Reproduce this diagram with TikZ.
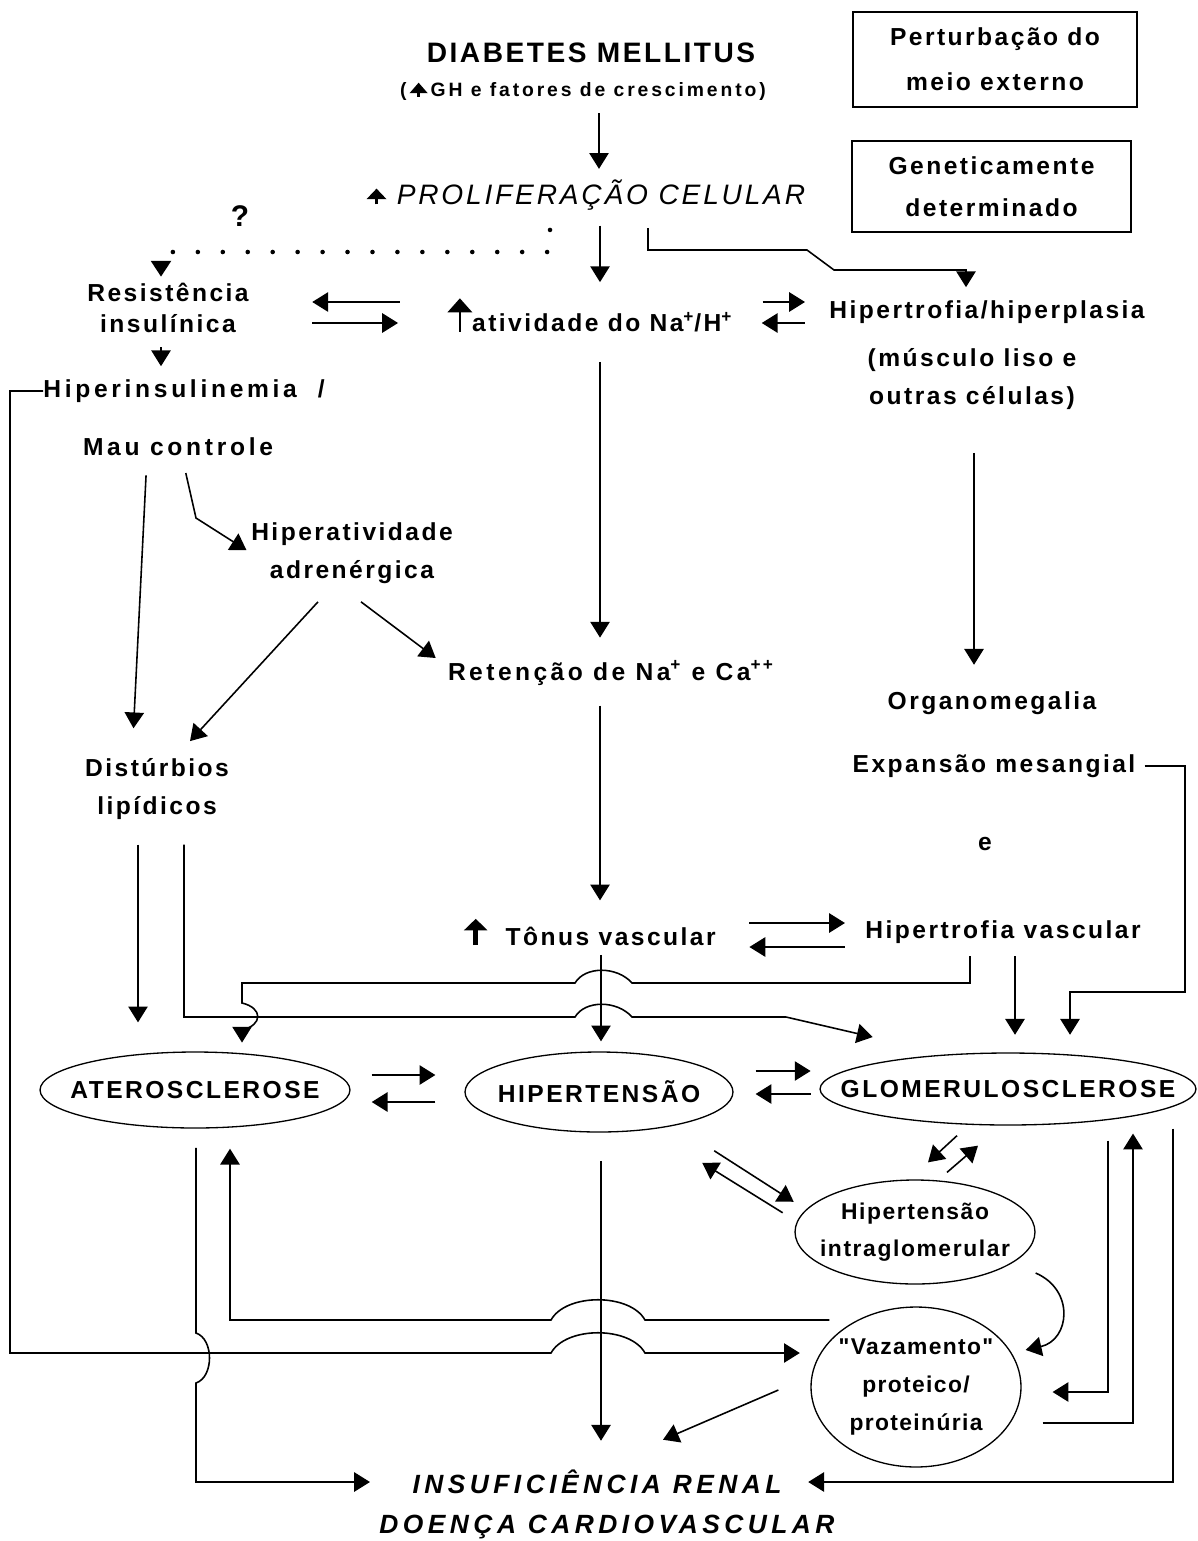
\documentclass[tikz,border=0pt]{standalone}
\usepackage{fontspec}
\setmainfont{Liberation Sans}
\newfontfamily\labfam{Liberation Sans}[LetterSpace=10]
\newfontfamily\dmfam{Liberation Sans}[LetterSpace=9]
\newfontfamily\ghfam{Liberation Sans}[LetterSpace=15]
\newfontfamily\insfam{Liberation Sans}[LetterSpace=17]
\usetikzlibrary{arrows.meta,shapes.geometric,calc}
\newcommand{\lab}{\labfam\fontsize{14pt}{21.6pt}\bfseries}
\newcommand{\upmark}[4]{\tikz[baseline=0pt]\draw[line width=#1,-{Triangle[length=#2,width=#3]}] (0pt,0pt) -- (0pt,#4);}

\begin{document}
\begin{tikzpicture}[x=0.02cm, y=-0.02cm,
  lbl/.style={font=\lab, align=center, inner sep=0pt},
  arr/.style={line width=0.9pt, -{Triangle[length=9pt,width=11pt]}},
  ln/.style={line width=0.9pt},
  dots/.style={line width=2.6pt, line cap=round, dash pattern=on 0pt off 14.2pt},
  oval/.style={ellipse, draw, line width=0.75pt, inner sep=0pt},
  boxed/.style={draw, line width=0.9pt, inner sep=0pt, align=center}]
  \fill[white] (0,0) rectangle (1197,1541);
  \useasboundingbox (0,0) rectangle (1197,1541);

  % top of the scheme
  \node[lbl, font=\dmfam\fontsize{16pt}{19pt}\bfseries] (dm) at (591,53) {DIABETES MELLITUS};
  \node[lbl, font=\ghfam\fontsize{11pt}{13pt}\bfseries] (gh) at (583,91) {(\,\upmark{1.6pt}{6pt}{10pt}{8pt}\,GH e fatores de crescimento)};
  \node[boxed, minimum width=5.68cm, minimum height=1.9cm, font=\labfam\fontsize{14pt}{25.6pt}\bfseries] (pert) at (995,59.5) {Perturbação do\\meio externo};
  \node[boxed, minimum width=5.58cm, minimum height=1.82cm, font=\labfam\fontsize{14pt}{24pt}\bfseries] (gene) at (991.5,186.5) {Geneticamente\\determinado};
  \node[lbl, font=\labfam\fontsize{16pt}{19pt}\itshape] (prolif) at (586,195) {\upmark{1.8pt}{6pt}{11pt}{9pt}\ PROLIFERAÇÃO CELULAR};
  \node[lbl, font=\labfam\fontsize{17pt}{19pt}\bfseries] (quest) at (240,216) {?};

  % first row
  \node[lbl, font=\labfam\fontsize{14pt}{17.6pt}\bfseries] (resist) at (168,308) {Resistência\\insulínica};
  \node[lbl] (ativ) at (590,315) {\upmark{1pt}{8pt}{14pt}{19pt}atividade do Na\textsuperscript{+}/H\textsuperscript{+}};
  \node[lbl] (hyp) at (987,312) {Hipertrofia/hiperplasia};
  \node[lbl] (musc) at (972,379) {(músculo liso e\\outras células)};
  \node[lbl, anchor=west, font=\lab\addfontfeatures{LetterSpace=15}] (hins) at (43,391) {Hiperinsulinemia\hspace{12pt}/};
  \node[lbl, font=\lab\addfontfeatures{LetterSpace=15}] (mau) at (178,447) {Mau controle};
  \node[lbl] (hatv) at (352,553) {Hiperatividade\\adrenérgica};
  \node[lbl, font=\lab\addfontfeatures{LetterSpace=14}] (reten) at (611,673) {Retenção de Na\textsuperscript{+} e Ca\textsuperscript{++}};
  \node[lbl] (organo) at (992,703) {Organomegalia};
  \node[lbl] (expan) at (994,766) {Expansão mesangial};
  \node[lbl] (econj) at (985,844) {e};
  \node[lbl] (distur) at (157,789) {Distúrbios\\lipídicos};
  \node[lbl] (tonus) at (590,932) {\upmark{2.6pt}{6.5pt}{13pt}{15pt}\ \ Tônus vascular};
  \node[lbl] (hvasc) at (1003,932) {Hipertrofia vascular};

  % the diseases
  \node[oval, minimum width=6.2cm, minimum height=1.52cm, label={[lbl]center:ATEROSCLEROSE}] (atero) at (195,1090) {};
  \node[oval, minimum width=5.36cm, minimum height=1.6cm, label={[lbl]center:HIPERTENSÃO}] (hten) at (599,1092) {};
  \node[oval, minimum width=7.52cm, minimum height=1.44cm, label={[lbl]center:GLOMERULOSCLEROSE}] (glom) at (1008,1089) {};
  \node[oval, minimum width=4.8cm, minimum height=2.08cm, label={[lbl, font=\labfam\fontsize{13pt}{21pt}\bfseries\addfontfeatures{LetterSpace=7}]center:{Hipertensão\\intraglomerular}}] (intra) at (915,1232) {};
  \node[oval, minimum width=4.2cm, minimum height=3.2cm, label={[lbl, font=\labfam\fontsize{13pt}{21.6pt}\bfseries\addfontfeatures{LetterSpace=6}]center:{"Vazamento"\\proteico/\\proteinúria}}] (vaz) at (916,1387) {};
  \node[lbl, font=\insfam\fontsize{15pt}{18pt}\bfseries\itshape] (insuf) at (597,1482) {INSUFICIÊNCIA RENAL};
  \node[lbl, font=\insfam\fontsize{15pt}{18pt}\bfseries\itshape] (doenca) at (607,1527) {DOENÇA CARDIOVASCULAR};

  % main column
  \draw[arr, shorten <=7pt, shorten >=6pt] (gh.south -| 599,0) -- (prolif.north -| 599,0);
  \draw[arr, shorten <=8.5pt, shorten >=8.5pt] (prolif.south -| 600,0) -- (ativ.north -| 600,0);
  \draw[dots, -{Triangle[length=9pt,width=11pt]}, shorten <=11pt, shorten >=3.5pt] (prolif.south -| 550,0) -- (550,252) -- (161,252) -- (resist.north -| 161,0);
  \draw[arr, shorten <=16.5pt, shorten >=13pt] (ativ.south -| 600,0) -- (reten.north -| 600,0);
  \draw[arr, shorten <=11.4pt, shorten >=9pt] (reten.south -| 600,0) -- (tonus.north -| 600,0);
  \draw[arr, shorten <=4pt, shorten >=5.7pt] (tonus.south -| 601,0) -- (hten.north -| 601,0);
  \draw[arr, shorten <=16pt, shorten >=16.5pt] (hten.south -| 601,0) -- (insuf.north -| 601,0);

  % exchanges on the first row
  \draw[arr, shorten <=27pt, shorten >=36pt] (ativ.west |- 0,302) -- (resist.east |- 0,302);
  \draw[arr, shorten <=36pt, shorten >=28pt] (resist.east |- 0,323) -- (ativ.west |- 0,323);
  \draw[arr, shorten <=17pt, shorten >=13.7pt] (ativ.east |- 0,302) -- (hyp.west |- 0,302);
  \draw[arr, shorten <=13.7pt, shorten >=16.5pt] (hyp.west |- 0,323) -- (ativ.east |- 0,323);
  \draw[arr, shorten <=10pt, shorten >=7.4pt] (prolif.south -| 648,0) -- (648,250) -- (807,250) -- (834,270) -| (hyp.north -| 966,0);

  % left branch
  \draw[arr, shorten <=8pt, shorten >=7.4pt] (resist.south -| 161,0) -- (hins.north -| 161,0);
  \draw[arr, shorten >=6pt] (hins.west) -| (10,1353) -- (551,1353) .. controls (566,1326) and (630,1326) .. (645,1353) -- (vaz.west |- 0,1353);
  \draw[arr, shorten <=10.8pt, shorten >=17pt] (mau.south -| 147,0) -- (distur.north -| 132,0);
  \draw[arr, shorten <=9.7pt, shorten >=3pt] (mau.south -| 182,0) -- (196,518) -- (hatv.west);
  \draw[arr] ($(hatv.south)+(-34,18)$) -- ($(distur.north)+(33,-17)$);
  \draw[arr] ($(hatv.south)+(9,18)$) -- ($(reten.west)+(-12,-15)$);

  % right branch
  \draw[arr, shorten <=24.5pt, shorten >=15pt] (musc.south -| 974,0) -- (organo.north -| 974,0);
  \draw[arr, shorten <=19pt, shorten >=11.4pt] (tonus.east |- 0,923) -- (hvasc.west |- 0,923);
  \draw[arr, shorten <=11.4pt, shorten >=19pt] (hvasc.west |- 0,947) -- (tonus.east |- 0,947);

  % lines into the diseases, jumping the main column
  \draw[arr, shorten <=7pt, shorten >=5pt] (hvasc.south -| 970,0) -- (970,983) -- (632,983) .. controls (617,966) and (585,966) .. (575,983) -- (242,983) -- (242,1003) .. controls (263,1008) and (263,1025) .. (242,1030) -- (atero.north -| 242,0);
  \draw[arr, shorten <=14pt, shorten >=16.5pt] (distur.south -| 138,0) -- (atero.north -| 138,0);
  \draw[arr, shorten <=14pt] (distur.south -| 184,0) -- (184,1017) -- (575,1017) .. controls (585,1000) and (617,1000) .. (632,1017) -- (786,1017) -- ($(glom.north west)+(-2,-26)$);
  \draw[arr, shorten <=7pt, shorten >=10pt] (hvasc.south -| 1015,0) -- (glom.north -| 1015,0);
  \draw[arr, shorten <=5pt, shorten >=10pt] (expan.east) -| (1185,992) -| (glom.north -| 1070,0);

  % exchanges between the diseases
  \draw[arr, shorten <=12pt, shorten >=16.5pt] (atero.east |- 0,1075) -- (hten.west |- 0,1075);
  \draw[arr, shorten <=16.5pt, shorten >=12pt] (hten.west |- 0,1102) -- (atero.east |- 0,1102);
  \draw[arr, shorten <=12.5pt, shorten >=5pt] (hten.east |- 0,1071) -- (glom.west |- 0,1071);
  \draw[arr, shorten <=5pt, shorten >=12.5pt] (glom.west |- 0,1094) -- (hten.east |- 0,1094);
  \draw[arr] ($(hten.south east)+(20,30)$) -- ($(intra.north west)+(-36,7)$);
  \draw[arr] ($(intra.north west)+(-47,18)$) -- ($(hten.south east)+(8,42)$);
  \draw[arr] ($(glom.south)+(-51,10)$) -- ($(intra.north)+(13,-17)$);
  \draw[arr] ($(intra.north)+(32,-7)$) -- ($(glom.south)+(-30,20)$);
  \draw[arr] ($(intra.east)+(0,41)$) .. controls (1075,1290) and (1070,1340) .. ($(vaz.north east)+(35,20)$);

  % leak and final outcome
  \draw[arr, shorten >=11.4pt] ($(vaz.north west)+(-12,-10)$) -- (645,1320) .. controls (630,1293) and (566,1293) .. (551,1320) -| (atero.south -| 230,0);
  \draw[arr, shorten <=11pt, shorten >=24pt] (atero.south -| 196,0) -- (196,1333) .. controls (214,1339) and (214,1377) .. (196,1383) |- (insuf.west);
  \draw[arr] ($(vaz.west)+(-32,3)$) -- ($(insuf.north)+(66,-30)$);
  \draw[arr, shorten <=8.5pt, shorten >=17.6pt] (glom.south -| 1108,0) |- (vaz.east |- 0,1392);
  \draw[arr, shorten <=12pt, shorten >=4.5pt] (vaz.east |- 0,1423) -| (glom.south -| 1133,0);
  \draw[arr, shorten <=1.7pt, shorten >=15pt] (glom.south -| 1173,0) |- (insuf.east);
\end{tikzpicture}
\end{document}
